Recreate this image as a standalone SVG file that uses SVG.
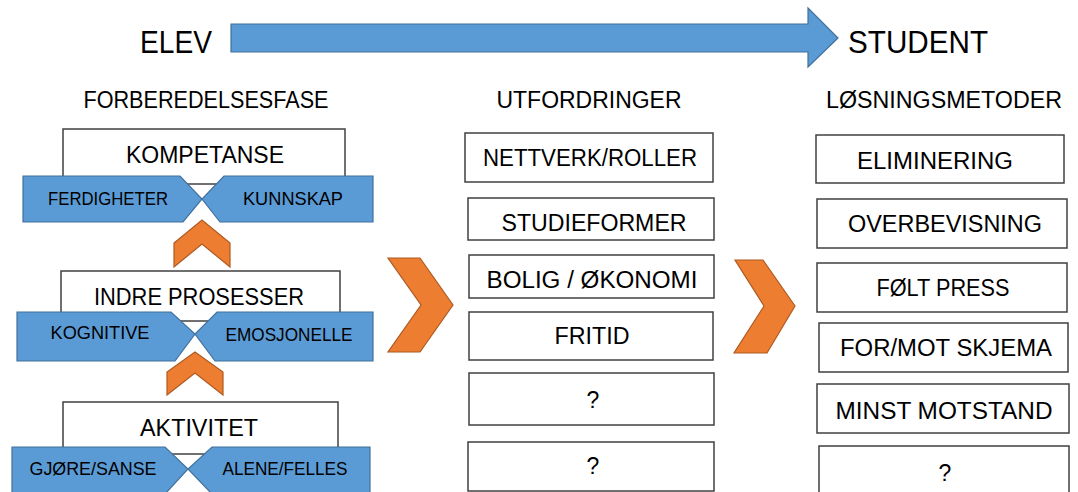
<svg xmlns="http://www.w3.org/2000/svg" width="1078" height="492" viewBox="0 0 1078 492">
<style>
text{font-family:"Liberation Sans",Arial,sans-serif;fill:#000;text-anchor:middle}
.big{font-size:31px}
.hdr{font-size:23px}
.bx{font-size:23px}
.bl{font-size:18px}
.box{fill:#fff;stroke:#404040;stroke-width:1.5}
.blue{fill:#5B9BD5;stroke:#41719C;stroke-width:1.2}
.org{fill:#ED7D31;stroke:#AE5A21;stroke-width:1.2}
</style>
<rect width="1078" height="492" fill="#fff"/>
<g id="progress">
<polygon class="blue" points="231,24 808,24 808,8 838,38 808,67 808,52 231,52"/>
<text class="big" x="176" y="53" textLength="72" lengthAdjust="spacingAndGlyphs">ELEV</text>
<text class="big" x="918" y="53" textLength="140" lengthAdjust="spacingAndGlyphs">STUDENT</text>
</g>
<g id="headers">
<text class="hdr" x="206" y="108" textLength="245" lengthAdjust="spacingAndGlyphs">FORBEREDELSESFASE</text>
<text class="hdr" x="589" y="108" textLength="185" lengthAdjust="spacingAndGlyphs">UTFORDRINGER</text>
<text class="hdr" x="944" y="108" textLength="236" lengthAdjust="spacingAndGlyphs">LØSNINGSMETODER</text>
</g>
<g id="kompetanse">
<rect class="box" x="63" y="129" width="282" height="55"/>
<text class="bx" x="205" y="163" textLength="158" lengthAdjust="spacingAndGlyphs">KOMPETANSE</text>
<polygon class="blue" points="23,176 180,176 202,199 183,222 23,222"/>
<polygon class="blue" points="224,176 373,176 373,222 220,222 202,199"/>
<text class="bl" x="108" y="205" textLength="120" lengthAdjust="spacingAndGlyphs">FERDIGHETER</text>
<text class="bl" x="293" y="205" textLength="100" lengthAdjust="spacingAndGlyphs">KUNNSKAP</text>
</g>
<g id="indre">
<rect class="box" x="61" y="271" width="279" height="50"/>
<text class="bx" x="199" y="305" textLength="210" lengthAdjust="spacingAndGlyphs">INDRE PROSESSER</text>
<polygon class="blue" points="17,312 171,312 195,334 175,361 17,361"/>
<polygon class="blue" points="217,312 373,312 373,361 215,361 195,334"/>
<text class="bl" x="100" y="339" textLength="99" lengthAdjust="spacingAndGlyphs">KOGNITIVE</text>
<text class="bl" x="289" y="341" textLength="127" lengthAdjust="spacingAndGlyphs">EMOSJONELLE</text>
</g>
<g id="aktivitet">
<rect class="box" x="63" y="402" width="275" height="52"/>
<text class="bx" x="199" y="436" textLength="118" lengthAdjust="spacingAndGlyphs">AKTIVITET</text>
<polygon class="blue" points="12,447 165,447 188,469 165,494 12,494"/>
<polygon class="blue" points="212,447 370,447 370,494 212,494 188,469"/>
<text class="bl" x="93" y="475" textLength="127" lengthAdjust="spacingAndGlyphs">GJØRE/SANSE</text>
<text class="bl" x="285" y="475" textLength="125" lengthAdjust="spacingAndGlyphs">ALENE/FELLES</text>
</g>
<g id="connectors">
<polygon class="org" points="174,267 174,243 202,220 230,243 230,267 202,244"/>
<polygon class="org" points="167,395 167,372 195,352 223,372 223,395 195,373"/>
<polygon class="org" points="388,258 420,258 453,305 420,352 388,352 421,305"/>
<polygon class="org" points="735,260 763,260 795,306 767,353 734,353 764,306"/>
</g>
<g id="utfordringer">
<rect class="box" x="465" y="133" width="248" height="49"/>
<text class="bx" x="590" y="166" textLength="214" lengthAdjust="spacingAndGlyphs">NETTVERK/ROLLER</text>
<rect class="box" x="468" y="198" width="246" height="42"/>
<text class="bx" x="594" y="231" textLength="185" lengthAdjust="spacingAndGlyphs">STUDIEFORMER</text>
<rect class="box" x="469" y="255" width="245" height="43"/>
<text class="bx" x="592" y="288" textLength="211" lengthAdjust="spacingAndGlyphs">BOLIG / ØKONOMI</text>
<rect class="box" x="469" y="312" width="244" height="48"/>
<text class="bx" x="592" y="344" textLength="75" lengthAdjust="spacingAndGlyphs">FRITID</text>
<rect class="box" x="469" y="373" width="245" height="52"/>
<text class="bx" x="593" y="408">?</text>
<rect class="box" x="468" y="442" width="246" height="49"/>
<text class="bx" x="593" y="474">?</text>
</g>
<g id="losningsmetoder">
<rect class="box" x="816" y="135" width="248" height="48"/>
<text class="bx" x="935" y="169" textLength="156" lengthAdjust="spacingAndGlyphs">ELIMINERING</text>
<rect class="box" x="817" y="199" width="250" height="49"/>
<text class="bx" x="945" y="232" textLength="194" lengthAdjust="spacingAndGlyphs">OVERBEVISNING</text>
<rect class="box" x="817" y="263" width="250" height="49"/>
<text class="bx" x="943" y="296" textLength="133" lengthAdjust="spacingAndGlyphs">FØLT PRESS</text>
<rect class="box" x="819" y="323" width="249" height="49"/>
<text class="bx" x="946" y="356" textLength="212" lengthAdjust="spacingAndGlyphs">FOR/MOT SKJEMA</text>
<rect class="box" x="817" y="384" width="252" height="49"/>
<text class="bx" x="944" y="419" textLength="217" lengthAdjust="spacingAndGlyphs">MINST MOTSTAND</text>
<rect class="box" x="819" y="446" width="250" height="50"/>
<text class="bx" x="945" y="481">?</text>
</g>
</svg>
